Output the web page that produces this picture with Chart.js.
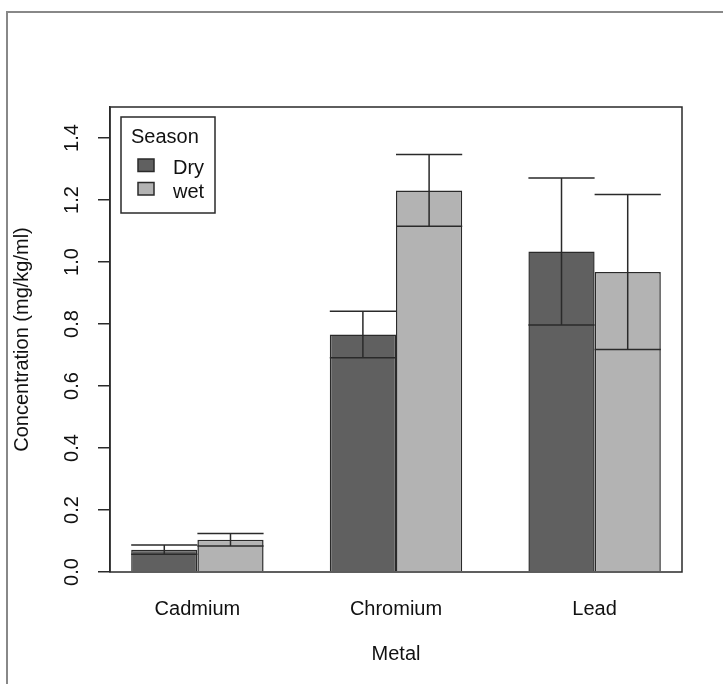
<!DOCTYPE html>
<html><head><meta charset="utf-8">
<script src="https://cdn.jsdelivr.net/npm/chart.js@4"></script>
<style>html,body{margin:0;padding:0;background:#fff}#wrap{width:723px;height:684px}</style>
</head><body><div id="wrap"><canvas id="c" width="723" height="684"></canvas></div>
<script>
const metals = ['Cadmium', 'Chromium', 'Lead'];
const seasons = ['Dry', 'wet'];
const dryMean = [0.072, 0.766, 1.034];
const drySE   = [0.015, 0.075, 0.237];
const wetMean = [0.104, 1.231, 0.968];
const wetSE   = [0.020, 0.116, 0.250];
const yTicks  = [0.0, 0.2, 0.4, 0.6, 0.8, 1.0, 1.2, 1.4];
const seasonColors = ['#606060', '#b3b3b3'];

Chart.defaults.font.family = "'Liberation Sans', Arial, sans-serif";
Chart.defaults.font.size = 20;
Chart.defaults.color = '#111';

const means = [dryMean, wetMean];
const ses = [drySE, wetSE];

const frame = {
  id: 'frame',
  beforeDraw(chart) {
    const ctx = chart.ctx;
    ctx.save();
    ctx.strokeStyle = '#888';
    ctx.lineWidth = 2;
    ctx.beginPath();
    ctx.moveTo(7, 684); ctx.lineTo(7, 12); ctx.lineTo(723, 12);
    ctx.stroke();
    ctx.restore();
  }
};

const errorBars = {
  id: 'errorBars',
  afterDatasetsDraw(chart) {
    const ctx = chart.ctx;
    const ys = chart.scales.y;
    ctx.save();
    ctx.strokeStyle = '#2a2a2a';
    ctx.lineWidth = 1.5;
    chart.data.datasets.forEach((ds, di) => {
      const meta = chart.getDatasetMeta(di);
      meta.data.forEach((el, i) => {
        const m = means[di][i], s = ses[di][i];
        const yt = ys.getPixelForValue(m + s);
        const yb = ys.getPixelForValue(m - s);
        const hw = el.width / 2;
        ctx.beginPath();
        ctx.moveTo(el.x - hw, yt); ctx.lineTo(el.x + hw, yt);
        ctx.moveTo(el.x - hw, yb); ctx.lineTo(el.x + hw, yb);
        ctx.moveTo(el.x, yt); ctx.lineTo(el.x, yb);
        ctx.stroke();
      });
    });
    const a = chart.chartArea;
    ctx.strokeStyle = '#2a2a2a';
    ctx.lineWidth = 1.5;
    ctx.strokeRect(a.left, a.top, a.right - a.left, a.bottom - a.top);
    ctx.restore();
  }
};

const boxLegend = {
  id: 'boxLegend',
  afterDraw(chart) {
    const ctx = chart.ctx;
    const a = chart.chartArea;
    const L = a.left + 11, T = a.top + 10, W = 94, H = 96;
    ctx.save();
    ctx.strokeStyle = '#2a2a2a';
    ctx.lineWidth = 1.5;
    ctx.strokeRect(L, T, W, H);
    ctx.font = "20px 'Liberation Sans', Arial, sans-serif";
    ctx.fillStyle = '#111';
    ctx.textBaseline = 'alphabetic';
    ctx.textAlign = 'left';
    ctx.fillText('Season', L + 10, T + 26);
    chart.data.datasets.forEach((ds, i) => {
      const y = T + 42 + i * 23.5;
      ctx.fillStyle = ds.backgroundColor;
      ctx.fillRect(L + 17, y, 16, 12.5);
      ctx.strokeRect(L + 17, y, 16, 12.5);
      ctx.fillStyle = '#111';
      ctx.fillText(ds.label, L + 52, y + 15);
    });
    ctx.restore();
  }
};

new Chart(document.getElementById('c'), {
  type: 'bar',
  data: {
    datasets: seasons.map((s, di) => ({
      label: s,
      data: means[di].map((v, i) => ({ x: i + 1, y: v })),
      backgroundColor: seasonColors[di],
      borderColor: '#2a2a2a',
      borderWidth: 1.5,
      barPercentage: 1,
      categoryPercentage: 2 / 3
    }))
  },
  options: {
    responsive: false,
    devicePixelRatio: 1,
    animation: false,
    layout: { padding: { left: 0, top: 107, right: 41, bottom: 0 } },
    plugins: { legend: { display: false }, tooltip: { enabled: false } },
    scales: {
      x: {
        type: 'linear',
        offset: false,
        min: 0.56, max: 3.44,
        afterBuildTicks: s => { s.ticks = metals.map((_, i) => ({ value: i + 1 })); },
        ticks: { callback: (v, i) => metals[i], padding: 25, autoSkip: false, maxRotation: 0, color: '#111' },
        grid: { display: false, drawTicks: false, tickLength: 0, offset: false },
        border: { display: false },
        title: { display: true, text: 'Metal', padding: { top: 0, bottom: 18 }, color: '#111' },
        afterFit: s => { s.height = 112; }
      },
      y: {
        min: 0, max: 1.5,
        afterBuildTicks: s => { s.ticks = yTicks.map(v => ({ value: v })); },
        ticks: { callback: v => Number(v).toFixed(1), minRotation: 90, maxRotation: 90, crossAlign: 'center', padding: 12, color: '#111' },
        grid: { drawOnChartArea: false, tickLength: 12, color: '#2a2a2a', lineWidth: 1.5 },
        border: { display: true, color: '#2a2a2a', width: 1.5 },
        title: { display: true, text: 'Concentration (mg/kg/ml)', padding: { top: 10, bottom: 0 }, color: '#111' },
        afterFit: s => { s.width = 110; }
      }
    }
  },
  plugins: [frame, errorBars, boxLegend]
});
</script>
</body></html>
